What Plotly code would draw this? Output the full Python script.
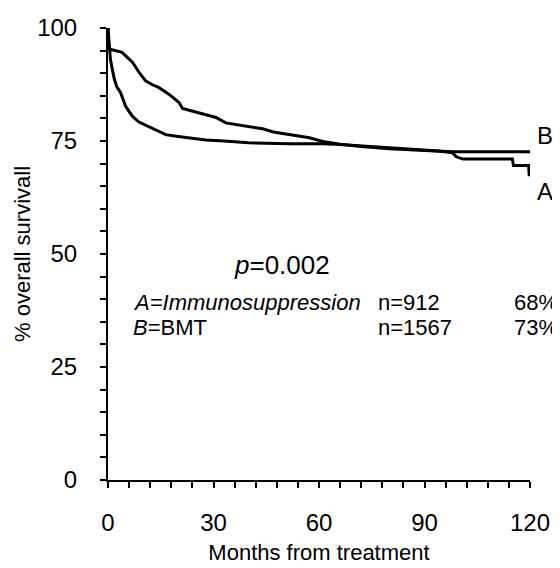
import plotly.graph_objects as go

# Kaplan-Meier style curves
months_A = [0, 0.3, 0.7, 1.2, 1.8, 2.5, 3.6, 5.0, 6.9, 8.8, 11.0, 13.6, 16.4, 20.0, 23.0,
            27.8, 33.0, 40.0, 51.6, 61.0, 66.0, 75.0, 85.0, 94.0, 98.0, 99.0, 101.0,
            115.0, 115.3, 119.6, 119.8]
surv_A = [100, 97, 93, 91, 88.7, 87, 85.7, 82.7, 80.5, 79.2, 78.4, 77.4, 76.4, 76.0, 75.7,
          75.2, 75.0, 74.6, 74.4, 74.4, 74.2, 73.8, 73.3, 72.8, 72.4, 71.5, 71.0,
          71.0, 69.6, 69.6, 67.2]

months_B = [0, 0.2, 0.5, 2.0, 4.0, 5.5, 7.0, 9.0, 10.7, 12.5, 14.5, 17.4, 20.2, 21.2, 23.0,
            25.9, 30.7, 33.5, 38.3, 44.0, 47.0, 51.6, 57.3, 61.0, 66.0, 72.0, 80.0, 90.0,
            98.0, 120.0]
surv_B = [100, 96, 95.3, 95, 94.6, 93.5, 92.4, 90, 88.3, 87.5, 86.8, 85.3, 83.5, 82.2, 81.8,
          81.3, 80.2, 79.0, 78.4, 77.7, 77.0, 76.4, 75.7, 74.9, 74.3, 73.8, 73.3, 72.9,
          72.6, 72.6]

x_tickvals = list(range(0, 121, 6))
x_labels = {0: "0", 30: "30", 60: "60", 90: "90", 120: "120"}
y_tickvals = list(range(0, 101, 5))
y_labels = {0: "0", 25: "25", 50: "50", 75: "75", 100: "100"}

curve_labels = ["B", "A"]
curve_label_y = [76.2, 63.8]

group_names = ["<i>A=Immunosuppression</i>", "<i>B</i>=BMT"]
group_n = ["n=912", "n=1567"]
group_pct = ["68%", "73%"]
group_y = [39.3, 33.8]
p_text = "<i>p</i>=0.002"

FONT = "Liberation Sans, Arial, sans-serif"

fig = go.Figure()
fig.add_trace(go.Scatter(x=months_A, y=surv_A, mode="lines",
                         line=dict(color="black", width=3), cliponaxis=False,
                         showlegend=False))
fig.add_trace(go.Scatter(x=months_B, y=surv_B, mode="lines",
                         line=dict(color="black", width=3), cliponaxis=False,
                         showlegend=False))

for lab, yv in zip(curve_labels, curve_label_y):
    fig.add_annotation(x=120, y=yv, xref="x", yref="y", text=lab, showarrow=False,
                       xanchor="left", xshift=5, font=dict(size=24, color="black", family=FONT))

fig.add_annotation(x=35.2, y=47.5, xref="x", yref="y", text=p_text, showarrow=False,
                   xanchor="left", font=dict(size=26, color="black", family=FONT))

for nm, n, pc, yv in zip(group_names, group_n, group_pct, group_y):
    fig.add_annotation(x=6.6, y=yv, xref="x", yref="y", text=nm, showarrow=False,
                       xanchor="left", font=dict(size=22, color="black", family=FONT))
    fig.add_annotation(x=76.3, y=yv, xref="x", yref="y", text=n, showarrow=False,
                       xanchor="left", font=dict(size=22, color="black", family=FONT))
    fig.add_annotation(x=115.0, y=yv, xref="x", yref="y", text=pc, showarrow=False,
                       xanchor="left", font=dict(size=22, color="black", family=FONT))

fig.update_xaxes(range=[0, 120], tickvals=x_tickvals,
                 ticktext=[x_labels.get(v, "") for v in x_tickvals],
                 ticks="outside", ticklen=6, tickwidth=2, tickcolor="black",
                 showline=True, linecolor="black", linewidth=2, automargin=False,
                 showgrid=False, zeroline=False, ticklabelstandoff=14,
                 tickfont=dict(size=24, color="black", family=FONT),
                 title=dict(text="Months from treatment", standoff=10,
                            font=dict(size=22, color="black", family=FONT)))
fig.update_yaxes(range=[0, 100], tickvals=y_tickvals,
                 ticktext=[y_labels.get(v, "") for v in y_tickvals],
                 ticks="outside", ticklen=6, tickwidth=2, tickcolor="black",
                 showline=True, linecolor="black", linewidth=2, automargin=False,
                 showgrid=False, zeroline=False, ticklabelstandoff=18,
                 tickfont=dict(size=24, color="black", family=FONT),
                 title=dict(text="% overall survivall", standoff=0,
                            font=dict(size=22, color="black", family=FONT)))

# the page adds an 8px body margin, so the figure is sized to fit the window
fig.update_layout(width=552, height=560, autosize=False,
                  margin=dict(l=100, r=30, t=20, b=88),
                  paper_bgcolor="white", plot_bgcolor="white",
                  font=dict(family=FONT, color="black"))

fig.write_html("out.html")
